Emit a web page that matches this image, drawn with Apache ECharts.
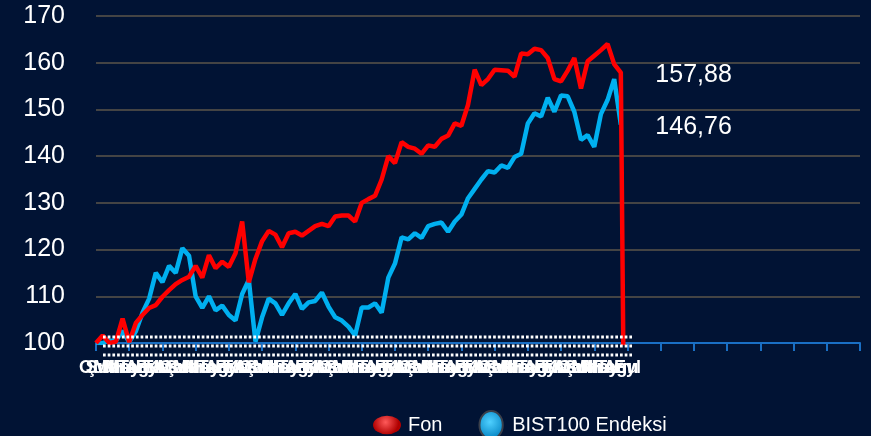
<!DOCTYPE html>
<html>
<head>
<meta charset="utf-8">
<script src="https://cdn.jsdelivr.net/npm/echarts@6/dist/echarts.min.js"></script>
<style>
  html, body { margin: 0; padding: 0; background: #011334; }
  #chart { width: 871px; height: 436px; }
</style>
</head>
<body>
<div id="chart"></div>
<script>
// ay kısaltmaları (x ekseni etiketleri)
var months = ['Oca', 'Şub', 'Mar', 'Nis', 'May', 'Haz', 'Tem', 'Ağu', 'Eyl', 'Eki', 'Kas', 'Ara'];
var lastDataIndex = 80;
var totalCats = 116;

// Fon (kırmızı)
var fon = [100, 101.6, 100, 100.3, 105.2, 100.2, 104.3, 106, 107.5, 108.1,
    109.9, 111.3, 112.6, 113.5, 114.2, 116.5, 114, 118.8, 116, 117.4,
    116.3, 119.2, 126, 113, 118, 121.8, 124, 123.2, 120.5, 123.5,
    123.8, 123, 124, 125, 125.5, 125, 127.1, 127.3, 127.3, 126,
    130, 130.8, 131.5, 135, 140, 138.5, 143, 142, 141.6, 140.5,
    142.3, 142, 143.7, 144.4, 147, 146.5, 151, 158.5, 155.2, 156.5,
    158.5, 158.4, 158.3, 157, 162, 161.8, 163, 162.7, 161, 156.5,
    156, 158.3, 161, 154.5, 160.3, 161.5, 162.7, 164, 159.7, 157.88,
    0];

// BIST100 Endeksi (mavi)
var bist = [100, 100, 100.5, 100.5, 102.6, 100.2, 102.5, 106.5, 109.5, 115,
    113, 116.5, 115, 120.3, 118.7, 110, 107.5, 110, 107, 108,
    106, 104.8, 110.5, 113.5, 100.3, 105.5, 109.5, 108.5, 106, 108.5,
    110.5, 107.3, 108.7, 109, 110.8, 107.8, 105.5, 104.8, 103.5, 101.6,
    107.6, 107.6, 108.5, 106.5, 114, 117, 122.6, 122.2, 123.5, 122.5,
    125, 125.5, 125.8, 123.8, 126, 127.5, 131, 133, 135, 136.8,
    136.5, 138, 137.5, 139.8, 140.5, 147, 149.2, 148.5, 152.5, 149.5,
    153, 152.8, 149.5, 143.5, 144.5, 142, 149, 152, 156.5, 146.76];

var categories = [];
for (var i = 0; i < totalCats; i++) {
    categories.push(months[i % 12] + '.' + (14 + Math.floor(i / 12)));
}

var chartDom = document.getElementById('chart');
var myChart = echarts.init(chartDom);
var option;

var font = "'Liberation Sans', Arial, sans-serif";

option = {
    backgroundColor: '#011334',
    animation: false,
    textStyle: { fontFamily: font },
    grid: { left: 96, right: 11, top: 16, bottom: 93 },
    legend: {
        left: 368,
        top: 405,
        itemWidth: 28,
        itemHeight: 28,
        itemGap: 36,
        textStyle: { color: '#ffffff', fontSize: 20, fontFamily: font, padding: [0, 0, 0, 2] },
        data: [
            {
                name: 'Fon',
                icon: 'path://M0,10 A15,10 0 1,1 30,10 A15,10 0 1,1 0,10 Z',
                itemStyle: {
                    color: {
                        type: 'radial', x: 0.45, y: 0.35, r: 0.7,
                        colorStops: [{ offset: 0, color: '#ff5a5a' }, { offset: 1, color: '#b00000' }]
                    }
                }
            },
            {
                name: 'BIST100 Endeksi',
                icon: 'path://M0,12 A10,12 0 1,1 20,12 A10,12 0 1,1 0,12 Z',
                itemStyle: {
                    color: {
                        type: 'radial', x: 0.45, y: 0.4, r: 0.7,
                        colorStops: [{ offset: 0, color: '#4fd0ff' }, { offset: 1, color: '#0080c0' }]
                    },
                    borderColor: '#3a3f4a',
                    borderWidth: 2
                }
            }
        ]
    },
    xAxis: {
        type: 'category',
        boundaryGap: false,
        data: categories,
        axisLine: { lineStyle: { color: '#1a6fc4', width: 2 } },
        axisTick: { show: true, interval: 4, length: 8, lineStyle: { color: '#1a6fc4', width: 2 } },
        axisLabel: {
            interval: 0,
            color: '#ffffff',
            fontSize: 18,
            fontWeight: 'bold',
            margin: 16,
            fontFamily: font,
            formatter: function (v, idx) {
                return idx <= lastDataIndex ? v.slice(0, 3) : '';
            }
        },
        splitLine: { show: false }
    },
    yAxis: {
        type: 'value',
        min: 100,
        max: 170,
        interval: 10,
        axisLine: { show: false },
        axisTick: { show: false },
        axisLabel: { color: '#ffffff', fontSize: 25, margin: 31, fontFamily: font },
        splitLine: { lineStyle: { color: '#444444', width: 2 } }
    },
    graphic: [
        // noktalı beyaz çizgiler (eksen çevresi)
        { type: 'line', shape: { x1: 103, y1: 337, x2: 632, y2: 337 }, style: { stroke: '#ffffff', lineWidth: 3, lineDash: [2.7, 2] }, z: 5 },
        { type: 'line', shape: { x1: 103, y1: 346, x2: 632, y2: 346 }, style: { stroke: '#ffffff', lineWidth: 3, lineDash: [2.7, 2] }, z: 5 },
        { type: 'line', shape: { x1: 103, y1: 355, x2: 632, y2: 355 }, style: { stroke: '#ffffff', lineWidth: 3, lineDash: [2.7, 2] }, z: 5 }
    ],
    series: [
        {
            name: 'BIST100 Endeksi',
            type: 'line',
            data: bist,
            showSymbol: false,
            symbol: 'none',
            color: '#00b0f0',
            lineStyle: { width: 4.5, color: '#00b0f0' },
            z: 3,
            markPoint: {
                symbol: 'circle',
                symbolSize: 1,
                itemStyle: { color: 'rgba(0,0,0,0)' },
                label: { show: true, position: 'right', distance: 34, offset: [0, 3], color: '#ffffff', fontSize: 25, fontFamily: font, formatter: '146,76' },
                data: [{ coord: [79, 146.76] }]
            }
        },
        {
            name: 'Fon',
            type: 'line',
            data: fon,
            showSymbol: false,
            symbol: 'none',
            color: '#ff0000',
            lineStyle: { width: 4.5, color: '#ff0000' },
            z: 4,
            markPoint: {
                symbol: 'circle',
                symbolSize: 1,
                itemStyle: { color: 'rgba(0,0,0,0)' },
                label: { show: true, position: 'right', distance: 34, offset: [0, 2], color: '#ffffff', fontSize: 25, fontFamily: font, formatter: '157,88' },
                data: [{ coord: [79, 157.88] }]
            }
        }
    ]
};

option && myChart.setOption(option);
</script>
</body>
</html>
